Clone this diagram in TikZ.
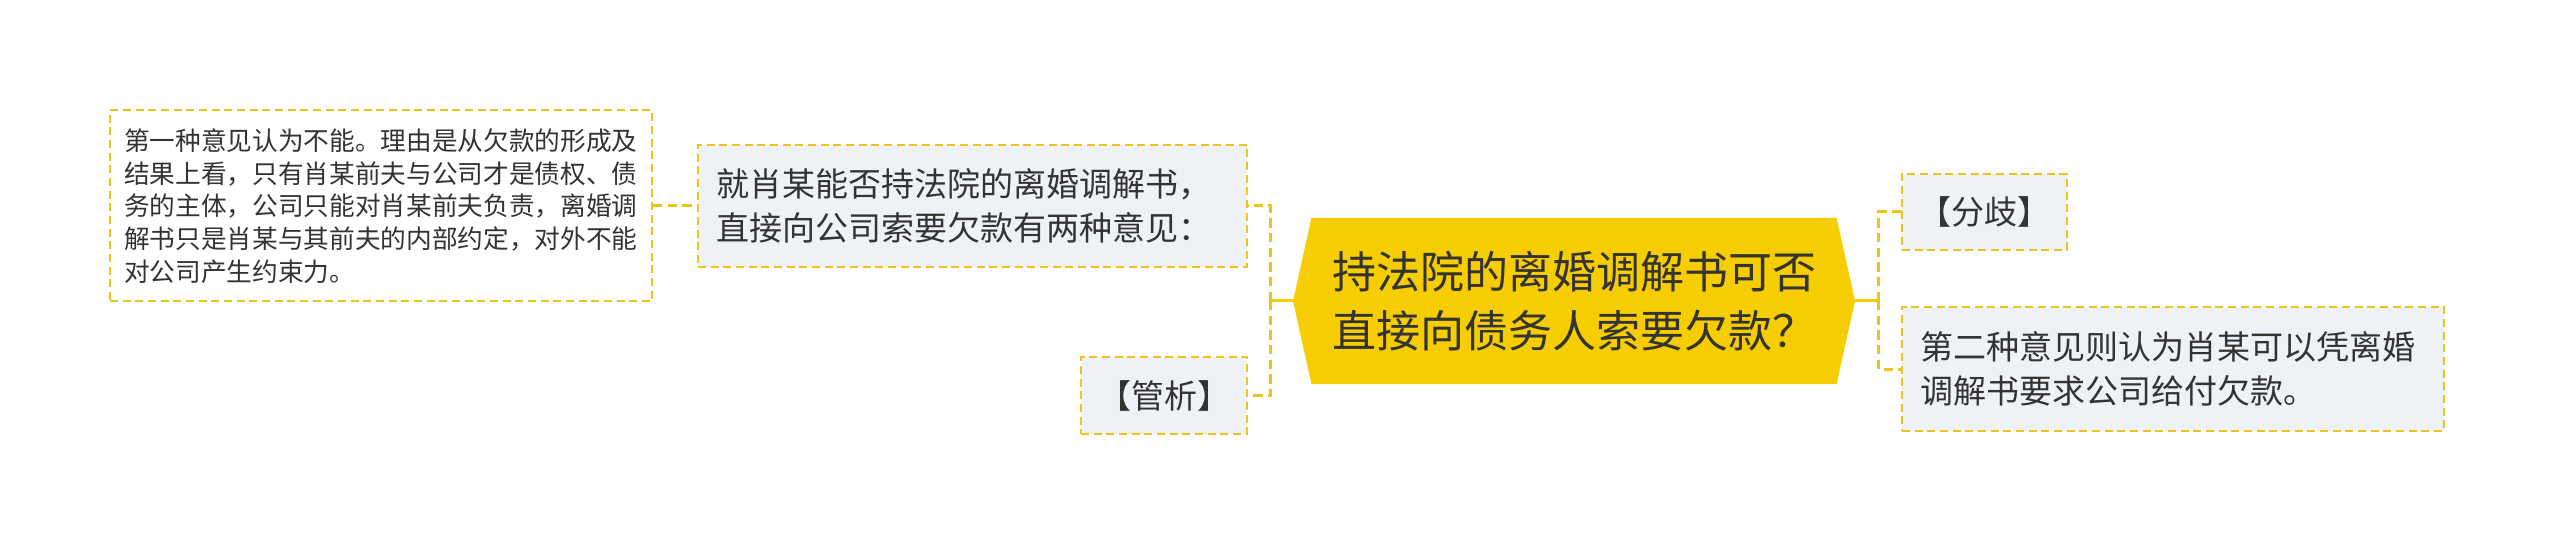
\documentclass[tikz,border=0pt]{standalone}
\usepackage{fontspec}
\usepackage{xcolor}
\usepackage{tikz}
\usetikzlibrary{shapes, shapes.symbols, positioning, calc}
\newfontfamily\cjk{Noto Sans CJK SC}
\definecolor{mapyellow}{HTML}{F6CD00}
\definecolor{mapline}{HTML}{EBC41C}
\definecolor{mapgray}{HTML}{EEF1F5}
\definecolor{maptext}{HTML}{333333}
\tikzset{
    topic/.style={
        shape=signal,
        signal to=east and west,
        signal pointer angle=155,
        fill=mapyellow,
        text=maptext,
        font=\cjk\fontsize{33}{44}\selectfont,
        text width=363pt,
        align=left,
        inner sep=0pt,
        minimum width=421.5pt,
        minimum height=124.5pt,
    },
    leaf/.style={
        rectangle,
        draw=mapline,
        line width=1.5pt,
        dash pattern=on 6pt off 3.5pt,
        fill=mapgray,
        text=maptext,
        font=\cjk\fontsize{24.75}{33}\selectfont,
        inner xsep=13.5pt,
        inner ysep=0pt,
    },
    note/.style={
        leaf,
        fill=white,
        font=\cjk\fontsize{19.25}{24.5}\selectfont,
        inner xsep=10.5pt,
    },
    stem/.style={
        draw=mapyellow,
        line width=2.25pt,
    },
    twig/.style={
        draw=mapline,
        line width=2.25pt,
        dash pattern=on 7pt off 4pt,
    },
}

\begin{document}
\begin{tikzpicture}[node distance=2cm, on grid]
      \path[fill=white] (0,0) rectangle (1920pt,-408.75pt);

      \node[topic] (main) at (1180.5pt,-225.75pt) {持法院的离婚调解书可否\\直接向债务人索要欠款？};

      \node[leaf, text width=384.75pt, align=left, minimum height=91.5pt, above left=71.25pt and 451.1pt of main] (views) {就肖某能否持法院的离婚调解书，\\直接向公司索要欠款有两种意见：};

      \node[note, text width=385.5pt, align=left, minimum height=143.25pt, left=443.6pt of views] (first) {第一种意见认为不能。理由是从欠款的形成及\\结果上看，只有肖某前夫与公司才是债权、债\\务的主体，公司只能对肖某前夫负责，离婚调\\解书只是肖某与其前夫的内部约定，对外不能\\对公司产生约束力。};

      \node[leaf, inner xsep=6pt, minimum width=124.5pt, minimum height=57.75pt, below left=70.9pt and 307.5pt of main] (guanxi) {【管析】};

      \node[leaf, inner xsep=6pt, minimum width=123.75pt, minimum height=57pt, above right=66.75pt and 307.9pt of main] (fenqi) {【分歧】};

      \node[leaf, text width=379.5pt, align=left, minimum height=93pt, below right=51pt and 449.25pt of main] (second) {第二种意见则认为肖某可以凭离婚\\调解书要求公司给付欠款。};

      \draw[stem] (main.west) -- ++(-16.5pt,0) coordinate (jl);
      \draw[twig] (jl) |- (views.east);
      \draw[twig] (jl) |- (guanxi.east);
      \draw[twig] (first.east) -- (views.west);

      \draw[stem] (main.east) -- ++(17.25pt,0) coordinate (jr);
      \draw[twig] (jr) |- (fenqi.west);
      \draw[twig] (jr) |- (second.west);

    \end{tikzpicture}
\end{document}
